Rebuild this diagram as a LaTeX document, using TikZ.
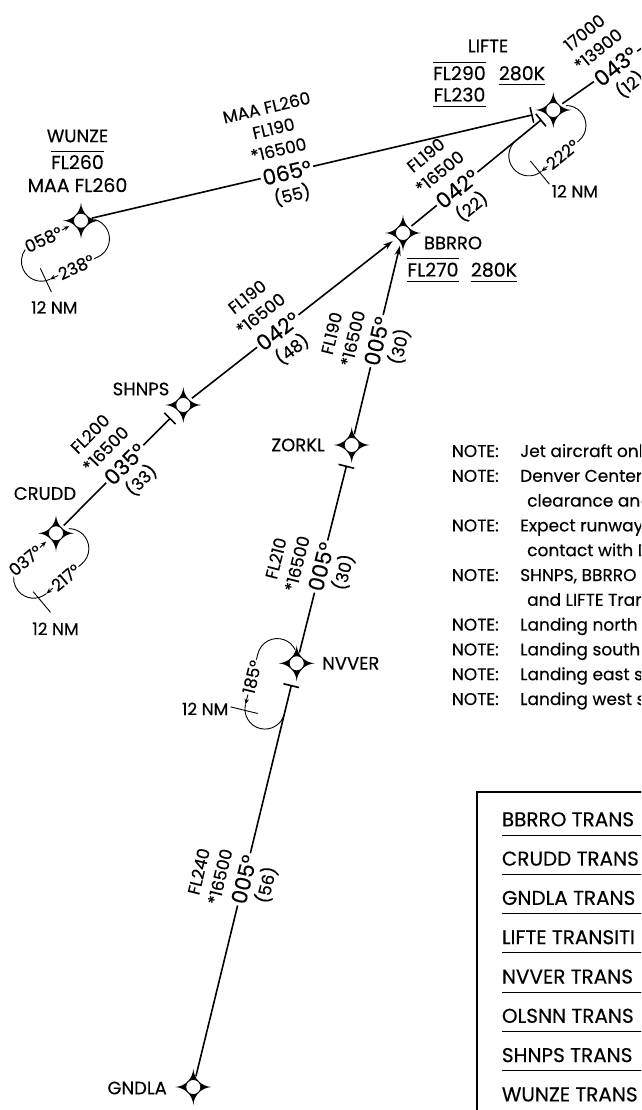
\documentclass[tikz,border=0pt]{standalone}
\usepackage{fontspec}
\setmainfont{Poppins}[FakeBold=0.3]
\usetikzlibrary{calc,arrows.meta}
\newcommand\rlab[6]{%
  \begin{scope}[shift={(#1.center)}, rotate=#2, transform shape]
    \node[lbl] (#6a) at (-3,46) {#3};
    \node[lbl] (#6b) at (-3,24) {#4};
    \node[lbl] (#6c) at (0,-23) {#5};
  \end{scope}}
\begin{document}
\begin{tikzpicture}[x=1pt,y=1pt,
  route/.style={line width=1.6pt},
  holdl/.style={line width=0.9pt},
  harrow/.style={-{Stealth[length=5.5pt,width=4.5pt]}},
  rarrow/.style={-{Stealth[length=10pt,width=6pt]},shorten >=2pt},
  tickl/.style={line width=1.6pt},
  altline/.style={line width=1pt},
  wpt/.style={circle,draw,fill=white,line width=0.8pt,minimum size=15pt,inner sep=0pt,outer sep=3.5pt},
  fixname/.style={font=\fontsize{18}{21}\selectfont,inner sep=1pt},
  lbl/.style={font=\fontsize{17}{20}\selectfont,inner sep=1pt},
  hdg/.style={font=\fontsize{21.5}{24}\selectfont,inner sep=2pt},
  hlbl/.style={font=\fontsize{17}{20}\selectfont,inner sep=1pt,fill=white},
  nm/.style={font=\fontsize{17}{20}\selectfont,inner sep=1pt},
  note/.style={font=\fontsize{17}{20}\selectfont,inner sep=0pt,anchor=base west},
  tbl/.style={font=\fontsize{20}{24}\selectfont,inner sep=0pt,anchor=base west},
  alt/.style={font=\fontsize{19}{22}\selectfont,inner xsep=0pt,inner ysep=4.5pt,text height=13.2pt,text depth=0pt},
  wstar/.pic={\fill (0,18) .. controls (0.8,8) and (8,0.8) .. (18,0) .. controls (8,-0.8) and (0.8,-8) .. (0,-18) .. controls (-0.8,-8) and (-8,-0.8) .. (-18,0) .. controls (-8,0.8) and (-0.8,8) .. cycle;}
]
\useasboundingbox (0,0) rectangle (641,-1110);
\clip (0,0) rectangle (641,-1110);

% ---------- fix positions
\coordinate (pW) at (81,-220.7);
\coordinate (pL) at (553.3,-110);
\coordinate (pB) at (403,-233);
\coordinate (pS) at (183.3,-405);
\coordinate (pC) at (56,-533.3);
\coordinate (pZ) at (351.7,-445);
\coordinate (pN) at (296.7,-663.3);
\coordinate (pG) at (193.3,-1087);

\pic at (pW) {wstar}; \pic at (pL) {wstar}; \pic at (pB) {wstar}; \pic at (pS) {wstar};
\pic at (pC) {wstar}; \pic at (pZ) {wstar}; \pic at (pN) {wstar}; \pic at (pG) {wstar};

\node[wpt] (wunze) at (pW) {};
\node[wpt] (lifte) at (pL) {};
\node[wpt] (bbrro) at (pB) {};
\node[wpt] (shnps) at (pS) {};
\node[wpt] (crudd) at (pC) {};
\node[wpt] (zorkl) at (pZ) {};
\node[wpt] (nvver) at (pN) {};
\node[wpt] (gndla) at (pG) {};

% ---------- fix names and restrictions
\node[fixname] (nLIFTE) at (488,-46) {LIFTE};
\node[alt] (lfl290) at (459.5,-73.5) {FL290};
\node[alt] (l280) at (522,-73.5) {280K};
\node[alt] (lfl230) at (459.5,-95) {FL230};
\draw[altline] (lfl290.north west) -- (lfl290.north east);
\draw[altline] (l280.south west) -- (l280.south east);
\draw[altline] (lfl230.south west) -- (lfl230.south east);

\node[fixname] (nWUNZE) at (77.5,-136) {WUNZE};
\node[alt] (wfl260) at (77.5,-162.5) {FL260};
\node[alt] (wmaa) at (77.5,-185.5) {MAA FL260};
\draw[altline] (wfl260.north west) -- (wfl260.north east);

\node[fixname] (nBBRRO) at (453,-243) {BBRRO};
\node[alt] (bfl270) at (433,-270) {FL270};
\node[alt] (b280) at (494,-270) {280K};
\draw[altline] (bfl270.north west) -- (bfl270.north east);
\draw[altline] (bfl270.south west) -- (bfl270.south east);
\draw[altline] (b280.south west) -- (b280.south east);

\node[fixname] (nSHNPS) at (141,-389) {SHNPS};
\node[fixname] (nCRUDD) at (45,-493.5) {CRUDD};
\node[fixname,anchor=east] (nZORKL) at (326,-445) {ZORKL};
\node[fixname,anchor=west] (nNVVER) at (321,-663.3) {NVVER};
\node[fixname,anchor=east] (nGNDLA) at (168,-1088) {GNDLA};

% ---------- route headings
\coordinate (offR) at ($(pL)+(35:200)$);
\node[hdg, rotate=13.19] (h1) at ($(pW)!0.436!(pL)$) {065°};
\node[hdg, rotate=39.29] (h2) at ($(pB)!0.36!(pL)$) {042°};
\node[hdg, rotate=38.06] (h3) at ($(pS)!0.43!(pB)$) {042°};
\node[hdg, rotate=45.22] (h4) at ($(pC)!0.54!(pS)$) {035°};
\node[hdg, rotate=76.40] (h5) at ($(pZ)!0.49!(pB)$) {005°};
\node[hdg, rotate=75.86] (h6) at ($(pN)!0.443!(pZ)$) {005°};
\node[hdg, rotate=76.29] (h7) at ($(pG)!0.49!(pN)$) {005°};
\node[hdg, rotate=39] (h8) at ($(pL)!76pt!(offR)$) {043°};

\coordinate (k1) at ($(pL)!22pt!(pW)$);
\coordinate (k2) at ($(pL)!16pt!(pB)$);
\coordinate (k4) at ($(pS)!19pt!(pC)$);
\coordinate (k6) at ($(pZ)!22pt!(pN)$);
\coordinate (k7) at ($(pN)!23pt!(pG)$);

\draw[route] (wunze) -- (h1); \draw[route] (h1) -- (k1);
\draw[route] (bbrro) -- (h2); \draw[route] (h2) -- (k2);
\draw[route] (shnps) -- (h3); \draw[route,rarrow] (h3) -- (bbrro);
\draw[route] (crudd) -- (h4); \draw[route] (h4) -- (k4);
\draw[route] (zorkl) -- (h5); \draw[route,rarrow] (h5) -- (bbrro);
\draw[route] (nvver) -- (h6); \draw[route] (h6) -- (k6);
\draw[route] (gndla) -- (h7); \draw[route] (h7) -- (k7);
\draw[route] (lifte) -- (h8); \draw[route] (h8) -- (offR);

\draw[tickl] ($(k1)!8pt!90:(pL)$) -- ($(k1)!8pt!-90:(pL)$);
\draw[tickl] ($(k2)!8pt!90:(pL)$) -- ($(k2)!8pt!-90:(pL)$);
\draw[tickl] ($(k4)!8pt!90:(pS)$) -- ($(k4)!8pt!-90:(pS)$);
\draw[tickl] ($(k6)!8pt!90:(pZ)$) -- ($(k6)!8pt!-90:(pZ)$);
\draw[tickl] ($(k7)!8pt!90:(pN)$) -- ($(k7)!8pt!-90:(pN)$);

% ---------- route labels
\rlab{h1}{13.19}{FL190}{*16500}{(55)}{r1}
\begin{scope}[shift={(h1.center)}, rotate=13.19, transform shape]
  \node[lbl] (r1m) at (-5,68) {MAA FL260};
\end{scope}
\rlab{h2}{39.29}{FL190}{*16500}{(22)}{r2}
\rlab{h3}{38.06}{FL190}{*16500}{(48)}{r3}
\rlab{h4}{45.22}{FL200}{*16500}{(33)}{r4}
\rlab{h5}{76.40}{FL190}{*16500}{(30)}{r5}
\rlab{h6}{75.86}{FL210}{*16500}{(30)}{r6}
\rlab{h7}{76.29}{FL240}{*16500}{(56)}{r7}
\rlab{h8}{39}{17000}{*13900}{(12)}{r8}

% ---------- holding patterns
\begin{scope}[shift={(pW)}, rotate=25]
  \draw[holdl] (12.86,-4.68) arc[start angle=50,end angle=-90,radius=20];
  \draw[holdl,harrow] (0,-40) -- (-53,-40);
  \draw[holdl] (-53,-40) arc[start angle=-90,end angle=-240,radius=20];
  \draw[holdl,harrow] (-63,-2.68) -- (-13,0);
  \draw[holdl] (-57,-26) -- (-57,-52) coordinate (wTk);
  \node[hlbl,transform shape] (wOut) at (-24,-40) {238°};
  \node[hlbl,transform shape] (wIn) at (-42,-1.2) {058°};
\end{scope}
\node[nm,anchor=north] (wNM) at ($(wTk)+(3,-8)$) {12 NM};

\begin{scope}[shift={(pC)}, rotate=40]
  \draw[holdl] (12.86,-4.68) arc[start angle=50,end angle=-90,radius=20];
  \draw[holdl,harrow] (0,-40) -- (-46,-40);
  \draw[holdl] (-46,-40) arc[start angle=-90,end angle=-240,radius=20];
  \draw[holdl,harrow] (-56,-2.68) -- (-13,0);
  \draw[holdl] (-55,-30) -- (-55,-57) coordinate (cTk);
  \node[hlbl,transform shape] (cOut) at (-21,-40) {217°};
  \node[hlbl,transform shape] (cIn) at (-41,-1) {037°};
\end{scope}
\node[nm,anchor=north] (cNM) at ($(cTk)+(5,-9)$) {12 NM};

\begin{scope}[shift={(pL)}, rotate=39.29]
  \draw[holdl] (12.86,-4.68) arc[start angle=50,end angle=-90,radius=20];
  \draw[holdl,harrow] (0,-40) -- (-48,-40);
  \draw[holdl] (-48,-40) arc[start angle=-90,end angle=-270,radius=20];
  \draw[holdl] (-50,-25) -- (-50,-55) coordinate (lTk);
  \node[hlbl,transform shape] (lOut) at (-21,-40) {222°};
\end{scope}
\node[nm,anchor=west] (lNM) at ($(lTk)+(1,-7)$) {12 NM};

\begin{scope}[shift={(pN)}, rotate=76.29]
  \draw[holdl] (12.86,4.68) arc[start angle=-50,end angle=90,radius=20];
  \draw[holdl,harrow] (0,40) -- (-52,40);
  \draw[holdl] (-52,40) arc[start angle=90,end angle=270,radius=20];
  \draw[holdl] (-58,26) -- (-58,54) coordinate (nTk);
  \node[hlbl,transform shape] (nOut) at (-24,40) {185°};
\end{scope}
\node[nm,anchor=east] (nNM) at ($(nTk)+(-1,-2)$) {12 NM};

% ---------- notes
\node[note] (o1a) at (451.7,-457) {NOTE:};   \node[note] (o1b) at (520,-457) {Jet aircraft only};
\node[note] (o2a) at (451.7,-481.8) {NOTE:}; \node[note] (o2b) at (520,-481.8) {Denver Center};
\node[note] (o3b) at (527,-506.6) {clearance and};
\node[note] (o4a) at (451.7,-531.4) {NOTE:}; \node[note] (o4b) at (520,-531.4) {Expect runway};
\node[note] (o5b) at (527,-556.2) {contact with D};
\node[note] (o6a) at (451.7,-581) {NOTE:};   \node[note] (o6b) at (520,-581) {SHNPS, BBRRO};
\node[note] (o7b) at (527,-605.8) {and LIFTE Tran};
\node[note] (o8a) at (451.7,-630.6) {NOTE:}; \node[note] (o8b) at (520,-630.6) {Landing north};
\node[note] (o9a) at (451.7,-655.4) {NOTE:}; \node[note] (o9b) at (520,-655.4) {Landing south};
\node[note] (o10a) at (451.7,-680.2) {NOTE:}; \node[note] (o10b) at (520,-680.2) {Landing east s};
\node[note] (o11a) at (451.7,-705) {NOTE:};  \node[note] (o11b) at (520,-705) {Landing west s};

% ---------- transitions table
\draw[line width=2pt] (476.7,-1120) -- (476.7,-791.7) -- (660,-791.7);
\node[tbl] (t1) at (501.7,-826.3) {BBRRO TRANS};
\node[tbl] (t2) at (501.7,-865.6) {CRUDD TRANS};
\node[tbl] (t3) at (501.7,-904.9) {GNDLA TRANS};
\node[tbl] (t4) at (501.7,-944.2) {LIFTE TRANSITI};
\node[tbl] (t5) at (501.7,-983.5) {NVVER TRANS};
\node[tbl] (t6) at (501.7,-1022.8) {OLSNN TRANS};
\node[tbl] (t7) at (501.7,-1062.1) {SHNPS TRANS};
\node[tbl] (t8) at (501.7,-1101.4) {WUNZE TRANS};
\foreach \t in {t1,t2,t3,t4,t5,t6,t7,t8}{
  \draw[line width=0.9pt] ([yshift=-8.7pt]\t.base west) -- ++(170,0);
}
\end{tikzpicture}
\end{document}
